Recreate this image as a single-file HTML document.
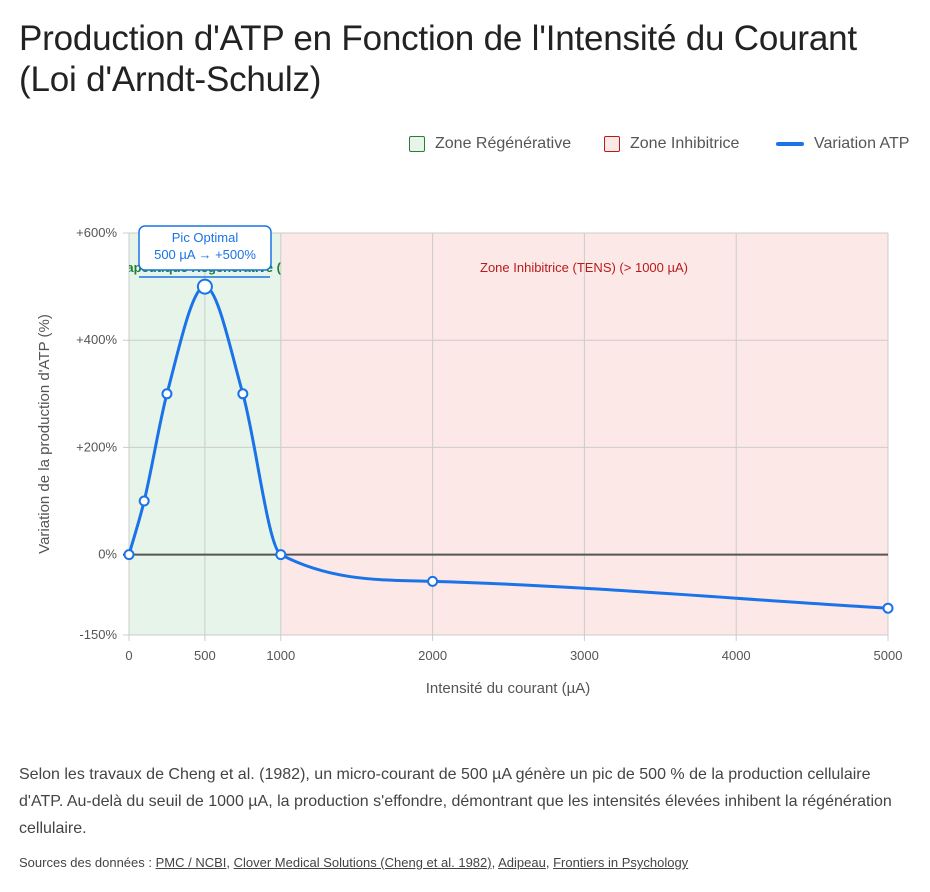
<!DOCTYPE html>
<html><head><meta charset="utf-8"><style>
body{margin:0;background:#fff;font-family:"Liberation Sans",sans-serif;width:930px;height:892px;overflow:hidden;position:relative}
h1{position:absolute;left:19px;top:18px;margin:0;font-weight:normal;font-size:35px;line-height:41px;color:#222;letter-spacing:-0.2px}
.legend{position:absolute;top:135px;font-size:16px;color:#555;display:flex;align-items:center}
.sw{display:inline-block;width:16px;height:16px;border-radius:2px;margin-right:10px;box-sizing:border-box}
p{position:absolute;left:19px;margin:0;color:#444}
a{color:#444;text-decoration:underline}
</style></head><body>
<h1>Production d'ATP en Fonction de l'Intensité du Courant<br>(Loi d'Arndt-Schulz)</h1>
<div class="legend" style="left:409px"><span class="sw" style="background:#e6f4ea;border:1.5px solid #2e7d32"></span>Zone Régénérative</div>
<div class="legend" style="left:604px"><span class="sw" style="background:#fce8e6;border:1.5px solid #b71c1c"></span>Zone Inhibitrice</div>
<div class="legend" style="left:776px"><span style="display:inline-block;width:28px;height:4px;background:#1a73e8;border-radius:2px;margin-right:10px"></span>Variation ATP</div>
<svg id="chart" width="930" height="720" style="position:absolute;left:0;top:0"></svg>
<p style="top:761px;font-size:16px;line-height:27px;width:880px">Selon les travaux de Cheng et al. (1982), un micro-courant de 500 µA génère un pic de 500 % de la production cellulaire d'ATP. Au-delà du seuil de 1000 µA, la production s'effondre, démontrant que les intensités élevées inhibent la régénération cellulaire.</p>
<p style="top:855px;font-size:13px">Sources des données : <a>PMC / NCBI</a>, <a>Clover Medical Solutions (Cheng et al. 1982)</a>, <a>Adipeau</a>, <a>Frontiers in Psychology</a></p>
<script>
const xValues=[0,100,250,500,750,1000,2000,5000];
const yValues=[0,100,300,500,300,0,-50,-100];
const xTicks=[0,500,1000,2000,3000,4000,5000];
const yTicks=[600,400,200,0,-150];
const yTickLabels=["+600%","+400%","+200%","0%","-150%"];
const NS="http://www.w3.org/2000/svg";
const svg=document.getElementById('chart');
const X0=129,X1=888,Y0=233,Y1=635;
const sx=v=>X0+(v-0)/(5000)*(X1-X0);
const sy=v=>Y0+(600-v)/750*(Y1-Y0);
function el(t,a,txt){const e=document.createElementNS(NS,t);for(const k in a)e.setAttribute(k,a[k]);if(txt!==undefined)e.textContent=txt;svg.appendChild(e);return e;}
let r=el('rect',{x:sx(0),y:Y0,width:sx(1000)-sx(0),height:Y1-Y0,fill:'#e6f4ea'});


r=el('rect',{x:sx(1000),y:Y0,width:sx(5000)-sx(1000),height:Y1-Y0,fill:'#fce8e6'});


xTicks.forEach(t=>{let g=el('line',{x1:sx(t),x2:sx(t),y1:Y0,y2:Y1+6,stroke:'#ccc'});


let tx=el('text',{x:sx(t),y:660,'text-anchor':'middle','font-size':13,fill:'#555'},t);

});
yTicks.forEach((t,i)=>{let g=el('line',{x1:X0-6,x2:X1,y1:sy(t),y2:sy(t),stroke:t===0?'#555':'#ccc','stroke-width':t===0?2:1});


let tx=el('text',{x:117,y:sy(t)+4,'text-anchor':'end','font-size':13,fill:'#555'},yTickLabels[i]);

});
let zl=el('text',{x:584,y:272,'text-anchor':'middle','font-size':13,fill:'#b71c1c'},'Zone Inhibitrice (TENS) (> 1000 µA)');


const cp=el('clipPath',{id:'gc'});
cp.appendChild((()=>{const e=document.createElementNS(NS,'rect');e.setAttribute('x',sx(0));e.setAttribute('y',Y0);e.setAttribute('width',sx(1000)-sx(0));e.setAttribute('height',100);return e;})());
zl=el('text',{x:sx(500),y:272,'text-anchor':'middle','font-size':13,fill:'#1e7e34','font-weight':'bold','clip-path':'url(#gc)'},'Zone Thérapeutique Régénérative (0-1000 µA)');


const px=xValues.map(sx),py=yValues.map(sy),n=px.length;
const d=[],m=[];for(let i=0;i<n-1;i++)d.push((py[i+1]-py[i])/(px[i+1]-px[i]));
m[0]=d[0];m[n-1]=d[n-2];for(let i=1;i<n-1;i++)m[i]=d[i-1]*d[i]<=0?0:(d[i-1]+d[i])/2;
for(let i=0;i<n-1;i++){if(d[i]===0){m[i]=m[i+1]=0;continue;}const a=m[i]/d[i],b=m[i+1]/d[i],s=a*a+b*b;if(s>9){const t=3/Math.sqrt(s);m[i]=t*a*d[i];m[i+1]=t*b*d[i];}}
let p='M'+px[0]+','+py[0];
for(let i=0;i<n-1;i++){const h=(px[i+1]-px[i])/3;p+=` C${px[i]+h},${py[i]+m[i]*h} ${px[i+1]-h},${py[i+1]-m[i+1]*h} ${px[i+1]},${py[i+1]}`;}
let line=el('path',{d:p,fill:'none',stroke:'#1a73e8','stroke-width':3});


xValues.forEach((v,i)=>{const big=yValues[i]===Math.max(...yValues);let c=el('circle',{cx:px[i],cy:py[i],r:big?7:4.5,fill:'#fff',stroke:'#1a73e8','stroke-width':2});

});
let al=el('line',{x1:139,x2:270,y1:277,y2:277,stroke:'#1a73e8','stroke-width':1.5});


let box=el('rect',{x:139,y:226,width:132,height:44,rx:6,fill:'#fff',stroke:'#1a73e8','stroke-width':1.5});


let t1=el('text',{x:205,y:242,'text-anchor':'middle','font-size':13,fill:'#1a73e8'},'Pic Optimal');


let t2=el('text',{x:205,y:259,'text-anchor':'middle','font-size':13,fill:'#1a73e8'},'500 µA → +500%');


let xt=el('text',{x:508,y:693,'text-anchor':'middle','font-size':15,fill:'#555'},'Intensité du courant (µA)');


let yt=el('text',{x:0,y:0,'text-anchor':'middle','font-size':15,fill:'#555',transform:'translate(49,434) rotate(-90)'},"Variation de la production d'ATP (%)");


</script>
</body></html>
